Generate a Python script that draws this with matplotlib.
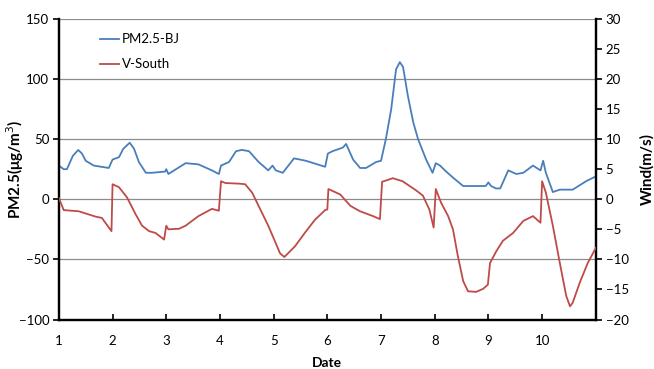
import matplotlib
matplotlib.use("Agg")
import matplotlib.pyplot as plt
from matplotlib.lines import Line2D

plt.rcParams['font.family'] = ['Lato', 'DejaVu Sans']

# PM2.5-BJ (left axis, µg/m3)
pm_day = [1.00, 1.09, 1.15, 1.26, 1.36, 1.43, 1.50, 1.65, 1.93, 2.00, 2.12, 2.20, 2.32, 2.40, 2.49,
          2.62, 2.73, 2.98, 3.00, 3.04, 3.36, 3.60, 3.85, 3.98, 4.02, 4.17, 4.30, 4.41, 4.54, 4.72,
          4.90, 4.98, 5.04, 5.17, 5.38, 5.60, 5.96, 6.01, 6.10, 6.29, 6.35, 6.48, 6.61, 6.72, 6.91,
          7.00, 7.09, 7.19, 7.28, 7.35, 7.41, 7.50, 7.60, 7.69, 7.84, 7.96, 8.02, 8.10, 8.19, 8.34,
          8.53, 8.95, 9.00, 9.05, 9.14, 9.22, 9.37, 9.52, 9.65, 9.83, 9.97, 10.02, 10.07, 10.20,
          10.33, 10.57, 10.82, 11.00]
pm_val = [28, 25, 25, 36, 41, 38, 32, 28, 26, 33, 35, 42, 47, 42, 31,
          22, 22, 23, 25, 21, 30, 29, 24, 21, 28, 31, 40, 41, 40, 31,
          24, 28, 24, 22, 34, 32, 27, 38, 40, 43, 46, 33, 26, 26, 31,
          32, 50, 75, 108, 114, 110, 86, 64, 50, 33, 22, 30, 28, 24, 18,
          11, 11, 14, 11, 9, 9, 24, 21, 22, 28, 24, 32, 22, 6,
          8, 8, 15, 19]

# V-South (right axis, m/s)
v_day = [1.00, 1.09, 1.37, 1.69, 1.80, 1.98, 2.00, 2.12, 2.27, 2.43, 2.55, 2.68, 2.80, 2.96, 3.00,
         3.04, 3.24, 3.36, 3.60, 3.85, 3.98, 4.02, 4.10, 4.35, 4.47, 4.60, 4.72, 4.90, 5.02, 5.12,
         5.20, 5.40, 5.58, 5.77, 5.96, 6.00, 6.02, 6.24, 6.43, 6.61, 6.85, 6.98, 7.02, 7.22, 7.40,
         7.65, 7.78, 7.90, 7.98, 8.02, 8.12, 8.25, 8.34, 8.43, 8.53, 8.62, 8.77, 8.90, 8.99, 9.03,
         9.15, 9.27, 9.46, 9.65, 9.83, 9.97, 10.00, 10.07, 10.20, 10.33, 10.45, 10.52, 10.57, 10.70,
         10.85, 11.00]
v_val = [0.2, -1.8, -2.0, -2.9, -3.1, -5.3, 2.5, 2.0, 0.3, -2.5, -4.4, -5.3, -5.6, -6.7, -4.4,
         -5.0, -4.9, -4.4, -2.8, -1.6, -1.9, 3.0, 2.7, 2.6, 2.5, 1.1, -1.1, -4.4, -6.9, -9.0,
         -9.6, -7.8, -5.6, -3.4, -1.8, -1.7, 1.7, 0.8, -1.1, -2.0, -2.8, -3.3, 2.9, 3.5, 3.0,
         1.5, 0.6, -1.7, -4.7, 1.7, -0.6, -2.8, -5.0, -9.4, -13.6, -15.3, -15.4, -14.9, -14.2, -10.6,
         -8.6, -6.9, -5.6, -3.6, -2.8, -3.9, 3.0, 1.1, -4.4, -10.6, -16.1, -17.8, -17.2, -13.9,
         -10.6, -8.1]

x_ticks = [1, 2, 3, 4, 5, 6, 7, 8, 9, 10]
left_ticks = [-100, -50, 0, 50, 100, 150]
right_ticks = [-20, -15, -10, -5, 0, 5, 10, 15, 20, 25, 30]

blue = '#4A7EBB'
red = '#BE4B48'

fig = plt.figure(figsize=(6.54, 3.69), dpi=100)
ax = fig.add_axes([0.090, 0.134, 0.821, 0.815])
ax2 = ax.twinx()

ax.set_xlim(1, 11)
ax.set_ylim(-100, 150)
ax2.set_ylim(-20, 30)

for y in left_ticks[1:]:
    ax.axhline(y, color='#8c8c8c', lw=0.9, zorder=0)

l1, = ax.plot(pm_day, pm_val, color=blue, lw=1.3, zorder=3)
l2, = ax2.plot(v_day, v_val, color=red, lw=1.3, zorder=3)

ax.set_xticks(x_ticks)
ax.set_yticks(left_ticks)
ax2.set_yticks(right_ticks)

for a in (ax, ax2):
    a.spines['top'].set_visible(False)
    for s in ('left', 'right', 'bottom'):
        a.spines[s].set_linewidth(1.6)
        a.spines[s].set_color('black')

ax.tick_params(axis='x', direction='in', length=4, width=1.2, labelsize=9.5, pad=11)
ax.tick_params(axis='y', direction='out', length=4, width=1.2, labelsize=9.5, pad=3)
ax2.tick_params(axis='y', direction='out', length=4, width=1.2, labelsize=9.5, pad=3)

ax.set_ylabel('PM2.5(μg/m$^3$)', fontsize=11, fontweight='bold')
ax.yaxis.set_label_coords(-0.062, 0.5)
ax2.set_ylabel('Wind(m/s)', fontsize=11, fontweight='bold')
ax2.yaxis.set_label_coords(1.082, 0.5)
ax.set_xlabel('Date', fontsize=10, fontweight='bold')
ax.xaxis.set_label_coords(0.5, -0.125)

handles = [Line2D([], [], color=blue, lw=1.3), Line2D([], [], color=red, lw=1.3)]
ax.legend(handles, ['PM2.5-BJ', 'V-South'], loc='upper left', bbox_to_anchor=(0.076, 0.952),
          frameon=False, fontsize=9.5, handlelength=1.5, handletextpad=0.2,
          borderpad=0, borderaxespad=0, labelspacing=1.0)

fig.savefig('out.png', dpi=100)
